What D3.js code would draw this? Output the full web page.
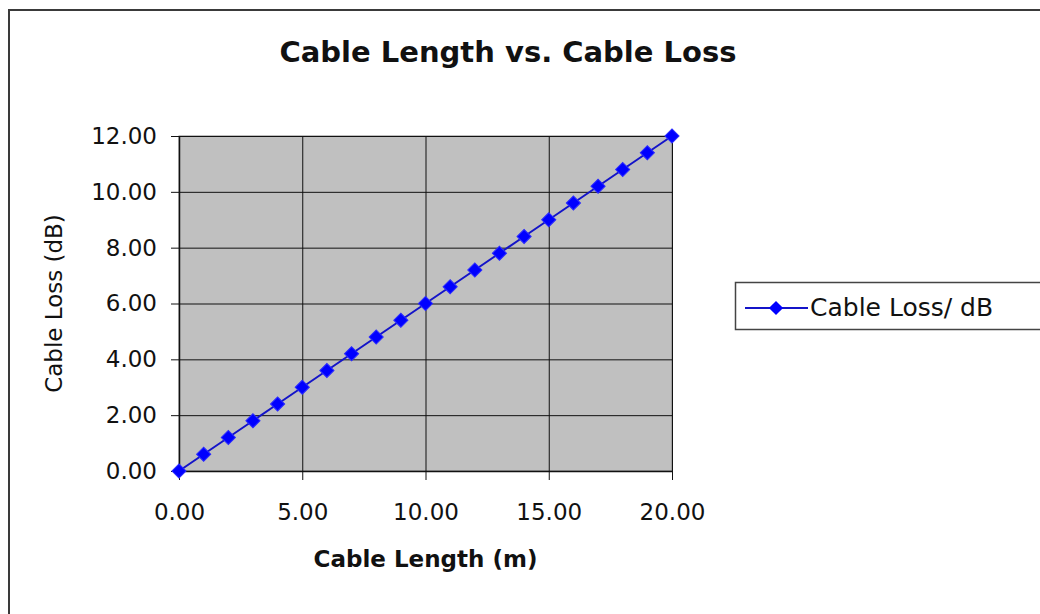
<!DOCTYPE html>
<html>
<head>
<meta charset="utf-8">
<script src="https://cdn.jsdelivr.net/npm/d3@7"></script>
<style>
  body { margin: 0; background: #fff; }
  svg { display: block; font-family: "DejaVu Sans", Verdana, sans-serif; }
</style>
</head>
<body>
<script>
// cable length (m) and measured loss (dB)
var lengths = [0, 1, 2, 3, 4, 5, 6, 7, 8, 9, 10, 11, 12, 13, 14, 15, 16, 17, 18, 19, 20];
var losses = [0.00, 0.60, 1.20, 1.80, 2.40, 3.00, 3.60, 4.20, 4.80, 5.40, 6.00, 6.60, 7.20, 7.80, 8.40, 9.00, 9.60, 10.20, 10.80, 11.40, 12.00];
var xTicks = [0, 5, 10, 15, 20];
var yTicks = [0, 2, 4, 6, 8, 10, 12];
var seriesName = "Cable Loss/ dB";

var W = 1040, H = 614;
var pLeft = 179, pRight = 672, pTop = 136, pBottom = 471;

var svg = d3.select("body").append("svg")
    .attr("width", W)
    .attr("height", H);

// outer chart frame
svg.append("rect")
    .attr("x", 9).attr("y", 10)
    .attr("width", 1100).attr("height", 700)
    .attr("fill", "#fff")
    .attr("stroke", "#3a3a3a")
    .attr("stroke-width", 2);

const xScale = d3.scaleLinear().domain([0, 20]).range([pLeft, pRight]);
const yScale = d3.scaleLinear().domain([0, 12]).range([pBottom, pTop]);

// plot area
svg.append("rect")
    .attr("x", pLeft).attr("y", pTop)
    .attr("width", pRight - pLeft).attr("height", pBottom - pTop)
    .attr("fill", "#c0c0c0")
    .attr("stroke", "#808080")
    .attr("stroke-width", 1);

// grid lines
svg.append("g").selectAll("line").data(yTicks.slice(1)).enter().append("line")
    .attr("x1", pLeft).attr("x2", pRight)
    .attr("y1", d => yScale(d) + 0.5).attr("y2", d => yScale(d) + 0.5)
    .attr("stroke", "#111").attr("stroke-width", 1);
svg.append("g").selectAll("line").data(xTicks.slice(1)).enter().append("line")
    .attr("x1", d => xScale(d) + 0.5).attr("x2", d => xScale(d) + 0.5)
    .attr("y1", pTop).attr("y2", pBottom)
    .attr("stroke", "#111").attr("stroke-width", 1);

const fmt = d3.format(".2f");
const xAxis = d3.axisBottom(xScale).tickValues(xTicks).tickFormat(fmt).tickSizeInner(9).tickSizeOuter(0).tickPadding(24);
const yAxis = d3.axisLeft(yScale).tickValues(yTicks).tickFormat(fmt).tickSizeInner(8).tickSizeOuter(0).tickPadding(14);

const gx = svg.append("g").attr("transform", `translate(0, ${pBottom})`).call(xAxis);
const gy = svg.append("g").attr("transform", `translate(${pLeft}, 0)`).call(yAxis);
[gx, gy].forEach(function (g) {
    g.select(".domain").attr("stroke", "#111").attr("stroke-width", 1.5);
    g.selectAll(".tick line").attr("stroke", "#111");
    g.selectAll(".tick text")
        .attr("fill", "#111")
        .style("font-family", '"DejaVu Sans", Verdana, sans-serif')
        .style("font-size", "23px");
});
gx.selectAll(".tick text").attr("dy", "0.71em");

// series line + markers
const line = d3.line().x(d => xScale(d[0])).y(d => yScale(d[1]));
const pts = lengths.map((x, i) => [x, losses[i]]);
svg.append("path")
    .datum(pts)
    .attr("d", line)
    .attr("fill", "none")
    .attr("stroke", "#1414c8")
    .attr("stroke-width", 2);

const diamond = d3.symbol().type(d3.symbolSquare).size(100);
svg.append("g").selectAll("path").data(pts).enter().append("path")
    .attr("d", diamond)
    .attr("transform", d => `translate(${xScale(d[0])}, ${yScale(d[1])}) rotate(45)`)
    .attr("fill", "#0000ff")
    .attr("stroke", "#2a2aff")
    .attr("stroke-width", 1);

// titles
svg.append("text")
    .attr("x", 508).attr("y", 62)
    .attr("text-anchor", "middle")
    .style("font-weight", "bold")
    .style("font-size", "29px")
    .attr("fill", "#111")
    .text("Cable Length vs. Cable Loss");

svg.append("text")
    .attr("x", (pLeft + pRight) / 2).attr("y", 567)
    .attr("text-anchor", "middle")
    .style("font-weight", "bold")
    .style("font-size", "23px")
    .attr("fill", "#111")
    .text("Cable Length (m)");

svg.append("text")
    .attr("transform", `translate(62, ${(pTop + pBottom) / 2}) rotate(-90)`)
    .attr("text-anchor", "middle")
    .style("font-size", "23px")
    .attr("fill", "#111")
    .text("Cable Loss (dB)");

// legend
const lg = svg.append("g");
lg.append("rect")
    .attr("x", 735.5).attr("y", 282.5)
    .attr("width", 400).attr("height", 47)
    .attr("fill", "#fff")
    .attr("stroke", "#444")
    .attr("stroke-width", 1.5);
lg.append("line")
    .attr("x1", 745).attr("x2", 808)
    .attr("y1", 308).attr("y2", 308)
    .attr("stroke", "#1414c8").attr("stroke-width", 2);
lg.append("path")
    .attr("d", diamond)
    .attr("transform", "translate(776, 308) rotate(45)")
    .attr("fill", "#0000ff");
lg.append("text")
    .attr("x", 810).attr("y", 316)
    .style("font-size", "25px")
    .attr("fill", "#111")
    .text(seriesName);
</script>
</body>
</html>
